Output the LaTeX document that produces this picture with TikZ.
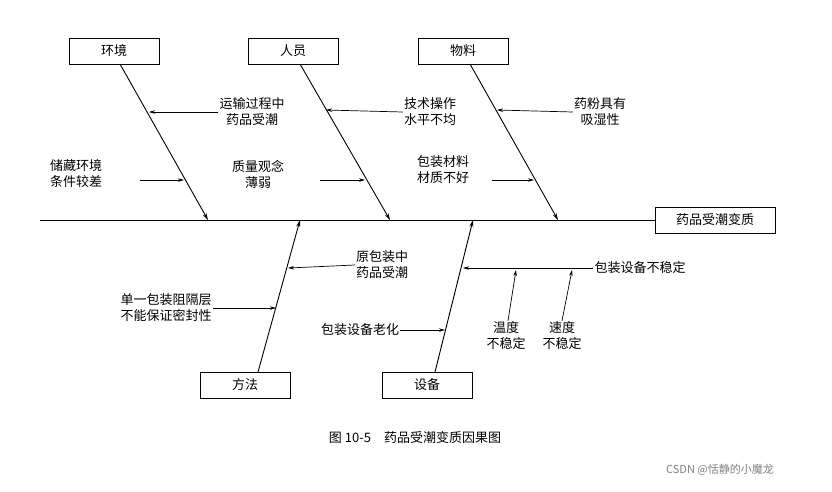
\documentclass[tikz,border=0pt]{standalone}
\usepackage{fontspec}
\setmainfont{Noto Sans CJK SC}
\usetikzlibrary{arrows.meta}
\tikzset{%
  catbox/.style={draw,line width=0.8pt,minimum width=90pt,minimum height=26pt,inner sep=0pt,font=\fontsize{13pt}{15pt}\selectfont},
  causetext/.style={align=center,font=\fontsize{13pt}{16pt}\selectfont,inner sep=1pt},
  bone/.style={line width=0.9pt,-{Stealth[length=7pt,width=4pt]}},
  twig/.style={line width=0.7pt,-{Stealth[length=6pt,width=3.5pt]}}
}
\begin{document}
\begin{tikzpicture}[x=1pt,y=-1pt]
\useasboundingbox[fill=white] (0,0) rectangle (832,491);

% head and spine
\node[catbox,minimum width=120pt] (head) at (715,220) {药品受潮变质};
\coordinate (tail) at (40,220);
\draw[line width=0.9pt] (tail) -- (head.west);

% category boxes
\node[catbox] (env) at (114,51) {环境};
\node[catbox] (ppl) at (293,51) {人员};
\node[catbox] (mat) at (463,51) {物料};
\node[catbox] (meth) at (245,385) {方法};
\node[catbox] (equ) at (427,385) {设备};

% main bones
\coordinate (envS) at (208,220);
\coordinate (pplS) at (390,220);
\coordinate (matS) at (558,220);
\coordinate (methS) at (300,220);
\coordinate (equS) at (473,220);
\draw[bone] (120,64) -- (envS);
\draw[bone] (300,64) -- (pplS);
\draw[bone] (470,64) -- (matS);
\draw[bone] (258,372) -- (methS);
\draw[bone] (435,372) -- (equS);

% causes, top
\node[causetext] (c1) at (252,112) {运输过程中\\药品受潮};
\draw[twig] (c1.west) -- (149,112);
\node[causetext] (c2) at (76,174) {储藏环境\\条件较差};
\coordinate (c2a) at (140,180);
\draw[twig] (c2a) -- (184,180);
\node[causetext] (c3) at (430,112) {技术操作\\水平不均};
\draw[twig] (c3.west) -- (326,110);
\node[causetext] (c4) at (258,174) {质量观念\\薄弱};
\coordinate (c4a) at (320,180);
\draw[twig] (c4a) -- (365,180);
\node[causetext] (c5) at (600,112) {药粉具有\\吸湿性};
\draw[twig] (c5.west) -- (497,110);
\node[causetext] (c6) at (443,170) {包装材料\\材质不好};
\coordinate (c6a) at (492,180);
\draw[twig] (c6a) -- (534,180);

% causes, bottom
\node[causetext] (c7) at (382,265) {原包装中\\药品受潮};
\draw[twig] (c7.west) -- (288,268);
\node[causetext] (c8) at (166,308) {单一包装阻隔层\\不能保证密封性};
\draw[twig] (c8.east) -- (276,308);
\node[causetext] (c9) at (360,330) {包装设备老化};
\draw[twig] (c9.east) -- (445,330);
\node[causetext] (c10) at (640,268) {包装设备不稳定};
\draw[twig] (c10.west) -- (463,268);
\node[causetext] (c11) at (506,336) {温度\\不稳定};
\draw[twig] (c11.north) ++(2,0) -- (516,270);
\node[causetext] (c12) at (562,336) {速度\\不稳定};
\draw[twig] (c12.north) -- (572,270);

% caption and mark
\node[font=\fontsize{13pt}{15pt}\selectfont] (cap) at (415,438) {图 10-5\quad 药品受潮变质因果图};
\node[text=gray,font=\fontsize{11pt}{13pt}\selectfont] (mark) at (720,470) {CSDN @恬静的小魔龙};
\end{tikzpicture}
\end{document}
